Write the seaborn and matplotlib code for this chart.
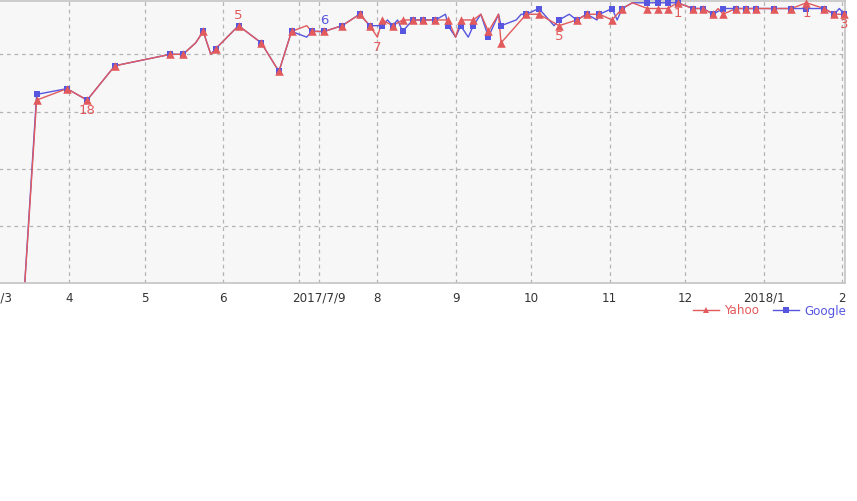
import matplotlib
matplotlib.use("Agg")
import matplotlib.pyplot as plt
import seaborn as sns
import pandas as pd
from matplotlib.lines import Line2D

# ---------------- data (rank, 1 = best) ----------------
yahoo_dates = ["2017-03-13", "2017-03-19", "2017-03-31", "2017-04-08", "2017-04-19", "2017-05-11",
               "2017-05-16", "2017-05-21", "2017-05-24", "2017-05-27", "2017-05-29", "2017-06-07",
               "2017-06-16", "2017-06-23", "2017-06-28", "2017-07-04", "2017-07-06", "2017-07-11",
               "2017-07-18", "2017-07-25", "2017-07-29", "2017-08-01", "2017-08-03", "2017-08-07",
               "2017-08-11", "2017-08-15", "2017-08-19", "2017-08-24", "2017-08-29", "2017-09-01",
               "2017-09-03", "2017-09-08", "2017-09-11", "2017-09-14", "2017-09-18", "2017-09-19",
               "2017-09-29", "2017-10-04", "2017-10-12", "2017-10-19", "2017-10-23", "2017-10-28",
               "2017-11-02", "2017-11-06", "2017-11-10", "2017-11-16", "2017-11-20", "2017-11-24",
               "2017-11-28", "2017-12-04", "2017-12-08", "2017-12-12", "2017-12-14", "2017-12-16",
               "2017-12-21", "2017-12-25", "2017-12-29", "2018-01-05", "2018-01-12", "2018-01-18",
               "2018-01-25", "2018-01-29", "2018-02-02"]
yahoo_rank = [59, 18, 16, 18, 12, 10,
              10, 8, 6, 10, 9, 5,
              8, 13, 6, 5, 6, 6,
              5, 3, 5, 7, 4, 5,
              4, 4, 4, 4, 4, 7,
              4, 4, 3, 6, 3, 8,
              3, 3, 5, 4, 3, 3,
              4, 2, 1, 2, 2, 2,
              1, 2, 2, 3, 2, 3,
              2, 2, 2, 2, 2, 1,
              2, 3, 3]
yahoo_marked = [0, 1, 1, 1, 1, 1,
                1, 0, 1, 0, 1, 1,
                1, 1, 1, 0, 1, 1,
                1, 1, 1, 0, 1, 1,
                1, 1, 1, 1, 1, 0,
                1, 1, 0, 1, 0, 1,
                1, 1, 1, 1, 1, 1,
                1, 1, 0, 1, 1, 1,
                1, 1, 1, 1, 0, 1,
                1, 1, 1, 1, 1, 1,
                1, 1, 1]

google_dates = ["2017-03-13", "2017-03-19", "2017-03-31", "2017-04-08", "2017-04-19", "2017-05-11",
                "2017-05-16", "2017-05-21", "2017-05-24", "2017-05-27", "2017-05-29", "2017-06-07",
                "2017-06-16", "2017-06-23", "2017-06-28", "2017-07-04", "2017-07-06", "2017-07-11",
                "2017-07-18", "2017-07-25", "2017-07-29", "2017-08-01", "2017-08-03", "2017-08-05",
                "2017-08-07", "2017-08-09", "2017-08-11", "2017-08-15", "2017-08-19", "2017-08-24",
                "2017-08-28", "2017-08-29", "2017-09-01", "2017-09-03", "2017-09-06", "2017-09-08",
                "2017-09-11", "2017-09-14", "2017-09-18", "2017-09-19", "2017-09-25", "2017-09-27",
                "2017-09-29", "2017-10-04", "2017-10-10", "2017-10-12", "2017-10-16", "2017-10-19",
                "2017-10-23", "2017-10-27", "2017-10-28", "2017-11-02", "2017-11-04", "2017-11-06",
                "2017-11-10", "2017-11-16", "2017-11-20", "2017-11-24", "2017-11-28", "2017-12-04",
                "2017-12-08", "2017-12-12", "2017-12-16", "2017-12-21", "2017-12-25", "2017-12-29",
                "2018-01-05", "2018-01-12", "2018-01-18", "2018-01-25", "2018-01-29", "2018-01-31",
                "2018-02-02"]
google_rank = [59, 17, 16, 18, 12, 10,
               10, 8, 6, 10, 9, 5,
               8, 13, 6, 7, 6, 6,
               5, 3, 5, 5, 5, 4,
               5, 4, 6, 4, 4, 4,
               3, 5, 7, 5, 7, 5,
               3, 7, 3, 5, 4, 3,
               3, 2, 5, 4, 3, 4,
               3, 4, 3, 2, 4, 2,
               1, 1, 1, 1, 1, 2,
               2, 3, 2, 2, 2, 2,
               2, 2, 2, 2, 3, 2,
               3]
google_marked = [0, 1, 1, 1, 1, 1,
                 1, 0, 1, 0, 1, 1,
                 1, 1, 1, 0, 1, 1,
                 1, 1, 1, 0, 1, 0,
                 1, 0, 1, 1, 1, 1,
                 0, 1, 0, 1, 0, 1,
                 0, 1, 0, 1, 0, 0,
                 1, 1, 0, 1, 0, 1,
                 1, 0, 1, 1, 0, 1,
                 0, 1, 1, 1, 1, 1,
                 1, 1, 1, 1, 1, 1,
                 1, 1, 1, 1, 1, 0,
                 1]

tick_dates = ["2017-03-01", "2017-04-01", "2017-05-01", "2017-06-01", "2017-07-01", "2017-07-09",
              "2017-08-01", "2017-09-01", "2017-10-01", "2017-11-01", "2017-12-01", "2018-01-01",
              "2018-02-01"]
tick_labels = ["2017/3", "4", "5", "6", "", "2017/7/9", "8", "9", "10", "11", "12", "2018/1", "2"]
rank_grid = [10, 20, 30, 40]

# point labels: (series, date, text, above?)
point_notes = [("Yahoo", "2017-04-08", "18", False),
               ("Yahoo", "2017-06-07", "5", True),
               ("Google", "2017-07-11", "6", True),
               ("Yahoo", "2017-08-01", "7", False),
               ("Yahoo", "2017-10-12", "5", False),
               ("Yahoo", "2017-11-28", "1", False),
               ("Yahoo", "2018-01-18", "1", False),
               ("Yahoo", "2018-02-02", "3", False)]

# ---------------- styling ----------------
RED = "#e25a5c"
BLUE = "#5656e0"

W, H = 857, 501
fig = plt.figure(figsize=(W / 100, H / 100), dpi=100)
fig.patch.set_facecolor("white")
left_px, right_px, top_px, bot_px = -50, 845, 0.5, 283.3
ax = fig.add_axes([left_px / W, 1 - bot_px / H, (right_px - left_px) / W, (bot_px - top_px) / H])
ax.set_facecolor("#f7f7f7")

yahoo = pd.DataFrame({"date": pd.to_datetime(yahoo_dates), "rank": yahoo_rank, "marked": yahoo_marked})
google = pd.DataFrame({"date": pd.to_datetime(google_dates), "rank": google_rank, "marked": google_marked})

sns.lineplot(data=google, x="date", y="rank", ax=ax, color=BLUE, lw=1.0, estimator=None, legend=False)
sns.lineplot(data=yahoo, x="date", y="rank", ax=ax, color=RED, lw=1.0, estimator=None, legend=False)
sns.scatterplot(data=google[google["marked"] == 1], x="date", y="rank", ax=ax, color=BLUE,
                marker="s", s=20, linewidth=0, legend=False, zorder=3)
sns.scatterplot(data=yahoo[yahoo["marked"] == 1], x="date", y="rank", ax=ax, color=RED,
                marker="^", s=38, linewidth=0, legend=False, zorder=4)
for coll in ax.collections:
    coll.set_clip_on(False)

# axes limits (pixel-calibrated)
origin = pd.Timestamp("2017-03-01")
px_per_day = 2.524
x0_px = -8.8
ax.set_xlim(origin + pd.Timedelta(days=(left_px - x0_px) / px_per_day),
            origin + pd.Timedelta(days=(right_px - x0_px) / px_per_day))
ax.set_ylim(50, 0.6)

ax.set_xticks(pd.to_datetime(tick_dates))
ax.set_xticklabels(tick_labels)
ax.set_yticks(rank_grid)
ax.set_yticklabels([])
ax.tick_params(axis="both", length=0)
ax.tick_params(axis="x", pad=6, labelsize=8.6, labelcolor="#333333")
ax.grid(True, color="#b4b4b4", linestyle=(0, (3, 3)), linewidth=0.9)
ax.set_axisbelow(True)
ax.set_xlabel("")
ax.set_ylabel("")
for sp in ax.spines.values():
    sp.set_color("#c4c4c4")
    sp.set_linewidth(1.2)

# point annotations
series_map = {"Yahoo": (yahoo, RED), "Google": (google, BLUE)}
for name, d, txt, above in point_notes:
    df, col = series_map[name]
    r = df.loc[df["date"] == pd.Timestamp(d), "rank"].iloc[0]
    ax.annotate(txt, (pd.Timestamp(d), r), xytext=(0, 7.5 if above else -7.5),
                textcoords="offset points", ha="center", va="center",
                color=col, fontsize=9.5, annotation_clip=False)

# legend
handles = [Line2D([], [], color=RED, lw=1.0, marker="^", markersize=5, markeredgewidth=0),
           Line2D([], [], color=BLUE, lw=1.0, marker="s", markersize=4, markeredgewidth=0)]
leg = fig.legend(handles, ["Yahoo", "Google"], loc="center right",
                 bbox_to_anchor=(846 / W, 1 - 311 / H), ncol=2, frameon=False, fontsize=8.6,
                 handlelength=2.2, handletextpad=0.4, columnspacing=1.2,
                 borderpad=0, borderaxespad=0)
for t, c in zip(leg.get_texts(), [RED, BLUE]):
    t.set_color(c)

fig.savefig("out.png", dpi=100)
